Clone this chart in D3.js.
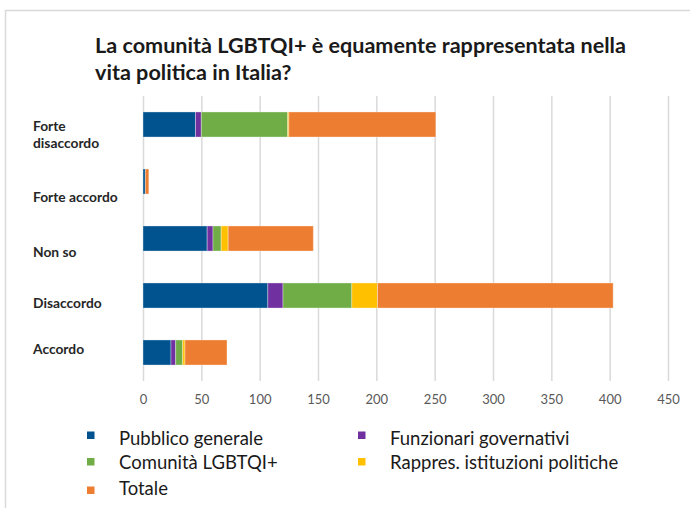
<!DOCTYPE html>
<html>
<head>
<meta charset="utf-8">
<script src="https://cdn.jsdelivr.net/npm/d3@7"></script>
<style>
  body { margin: 0; background: #fff; }
  svg { display: block; font-family: Lato, "Open Sans", sans-serif; }
</style>
</head>
<body>
<div id="vis"></div>
<script>
// categories, top to bottom
const categories = ['Forte disaccordo', 'Forte accordo', 'Non so', 'Disaccordo', 'Accordo'];

const seriesNames = [
  'Pubblico generale',
  'Funzionari governativi',
  'Comunità LGBTQI+',
  'Rappres. istituzioni politiche',
  'Totale'
];

// values
const pubblico   = [45, 2, 55, 107, 24];
const funzionari = [5, 0, 5, 13, 4];
const comunita   = [74, 0, 7, 59, 6];
const rappres    = [1, 0, 6, 22, 2];
const totale     = [126, 3, 73, 202, 36];

const xTicks = [0, 50, 100, 150, 200, 250, 300, 350, 400, 450];

const colors = ['#00538f', '#7030a0', '#70ad47', '#ffc000', '#ed7d31'];

const visWidth = 690;
const visHeight = 508;

const margin = {top: 96, left: 143, right: 22, bottom: 127};
const width = visWidth - margin.left - margin.right;
const height = visHeight - margin.top - margin.bottom;

// labels in the picture sit a little off the bar centres
const labelNudge = [10, 16, 14, 8, -3];

const table = categories.map((c, i) => ({
  category: c,
  [seriesNames[0]]: pubblico[i],
  [seriesNames[1]]: funzionari[i],
  [seriesNames[2]]: comunita[i],
  [seriesNames[3]]: rappres[i],
  [seriesNames[4]]: totale[i]
}));

const root = d3.select('#vis').append('svg')
    .attr('width', visWidth)
    .attr('height', visHeight);

// frame
root.append('path')
    .attr('d', `M5.5,${visHeight}V10.5H${visWidth}`)
    .attr('fill', 'none')
    .attr('stroke', '#d9d9d9')
    .attr('stroke-width', 1.5);

// title
const title = root.append('text')
    .attr('x', 95)
    .attr('y', 53)
    .attr('font-size', 21.6)
    .attr('font-weight', 'bold')
    .attr('fill', '#1a1a1a');
title.append('tspan').text('La comunità LGBTQI+ è equamente rappresentata nella');
title.append('tspan').attr('x', 95).attr('dy', 27).text('vita politica in Italia?');

const svg = root.append('g')
    .attr('transform', `translate(${margin.left}, ${margin.top})`);

const x = d3.scaleLinear()
    .domain([0, 450])
    .range([0, width]);

const y = d3.scaleBand()
    .domain(categories)
    .range([0, height])
    .paddingInner(0.56)
    .paddingOuter(0.28);

// grid + tick labels
svg.append('g')
    .attr('transform', `translate(0, ${height})`)
    .call(d3.axisBottom(x).tickValues(xTicks).tickSize(-height).tickPadding(14))
    .call(g => g.select('.domain').remove())
    .call(g => g.selectAll('.tick line')
        .attr('stroke', '#d9d9d9')
        .attr('stroke-width', 1.5))
    .call(g => g.selectAll('.tick text')
        .attr('fill', '#595959')
        .attr('font-size', 13)
        .attr('font-family', 'Lato, sans-serif'));

const stack = d3.stack().keys(seriesNames);
const stacked = stack(table);

svg.selectAll('.series')
  .data(stacked)
  .join('g')
    .attr('class', 'series')
    .attr('fill', (d, i) => colors[i])
  .selectAll('rect')
  .data(d => d)
  .join('rect')
    .attr('x', d => x(d[0]))
    .attr('width', d => Math.max(0, x(d[1]) - x(d[0])))
    .attr('y', d => y(d.data.category))
    .attr('height', y.bandwidth())
    .attr('stroke', '#fff')
    .attr('stroke-opacity', 0.35)
    .attr('stroke-width', 1);

// category labels
const labels = root.append('g')
    .attr('font-size', 13.8)
    .attr('font-weight', 'bold')
    .attr('fill', '#262626');

categories.forEach((c, i) => {
  const words = c.split(' ');
  const lines = c.length > 14 ? [words[0], words.slice(1).join(' ')] : [c];
  const cy = margin.top + y(c) + y.bandwidth() / 2 + labelNudge[i];
  const lineH = 17;
  const t = labels.append('text')
      .attr('x', 33)
      .attr('y', cy - (lines.length - 1) * lineH / 2)
      .attr('dy', '0.35em');
  lines.forEach((l, j) => {
    t.append('tspan')
        .attr('x', 33)
        .attr('dy', j === 0 ? null : lineH)
        .text(l);
  });
});

// legend, two columns
const legendCols = [87, 358];
const legendRows = [439, 463, 489];

const legend = root.append('g')
    .attr('font-size', 18.5)
    .attr('fill', '#1a1a1a');

seriesNames.forEach((name, i) => {
  const col = i % 2;
  const row = Math.floor(i / 2);
  const gx = legendCols[col];
  const gy = legendRows[row];
  legend.append('rect')
      .attr('x', gx)
      .attr('y', gy - 5 + (row - 1) * 2.5)
      .attr('width', 7.5)
      .attr('height', 7.5)
      .attr('fill', colors[i]);
  legend.append('text')
      .attr('x', gx + 32)
      .attr('y', gy)
      .attr('dy', '0.35em')
      .text(name);
});
</script>
</body>
</html>
